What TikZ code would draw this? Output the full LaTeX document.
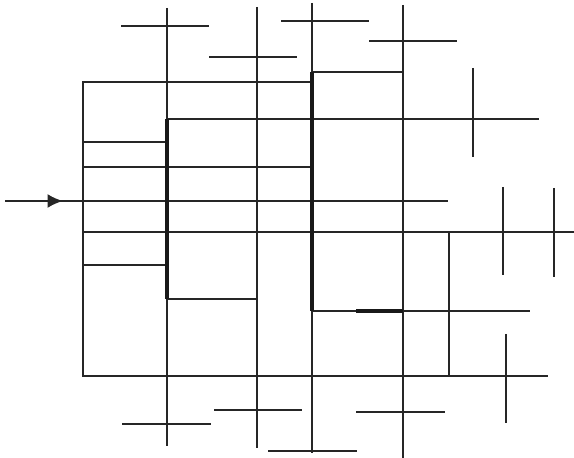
\documentclass[tikz,border=0pt]{standalone}
\usepackage{tikz}
\usetikzlibrary{arrows.meta}

\begin{document}
\begin{tikzpicture}[x=0.025cm, y=-0.025cm, line width=1.6pt, line cap=butt]
  \useasboundingbox (0, 0) rectangle (574, 458);
  \tikzset{grid line/.style={draw=black!85}, box edge/.style={draw=black!90, line width=2.4pt}}

  % Outer frame
  \draw[grid line] (312, 82) -- (83, 82) -- (83, 376) -- (548, 376);

  % Long verticals with top crosses
  \draw[grid line] (167, 8) -- (167, 446);
  \draw[grid line] (257, 7) -- (257, 448);
  \draw[grid line] (312, 3) -- (312, 453);
  \draw[grid line] (403, 5) -- (403, 458);
  \draw[grid line] (121, 26) -- (209, 26);
  \draw[grid line] (209, 57) -- (297, 57);
  \draw[grid line] (281, 21) -- (369, 21);
  \draw[grid line] (369, 41) -- (457, 41);

  % Horizontals
  \draw[grid line] (312, 72) -- (403, 72);
  \draw[grid line] (167, 119) -- (539, 119);
  \draw[grid line] (83, 142) -- (167, 142);
  \draw[grid line] (83, 167) -- (312, 167);
  \draw[grid line] (83, 232) -- (574, 232);
  \draw[grid line] (83, 265) -- (167, 265);
  \draw[grid line] (167, 299) -- (257, 299);
  \draw[grid line] (312, 311) -- (530, 311);

  % Input line
  \draw[grid line] (5, 201) -- (448, 201);
  \draw[grid line, -{Latex[length=11pt, width=10pt]}] (5, 201) -- (63, 201);

  % Boxes
  \draw[box edge] (167, 119) -- (167, 299);
  \draw[box edge] (312, 72) -- (312, 311);
  \draw[box edge] (356, 311) -- (403, 311);
  \draw[grid line] (403, 232) -- (449, 232) -- (449, 376);

  % Right crosses
  \draw[grid line] (473, 68) -- (473, 157);
  \draw[grid line] (503, 187) -- (503, 275);
  \draw[grid line] (554, 188) -- (554, 277);
  \draw[grid line] (506, 334) -- (506, 423);

  % Bottom crosses
  \draw[grid line] (122, 424) -- (211, 424);
  \draw[grid line] (214, 410) -- (302, 410);
  \draw[grid line] (268, 451) -- (357, 451);
  \draw[grid line] (356, 412) -- (445, 412);
\end{tikzpicture}
\end{document}
